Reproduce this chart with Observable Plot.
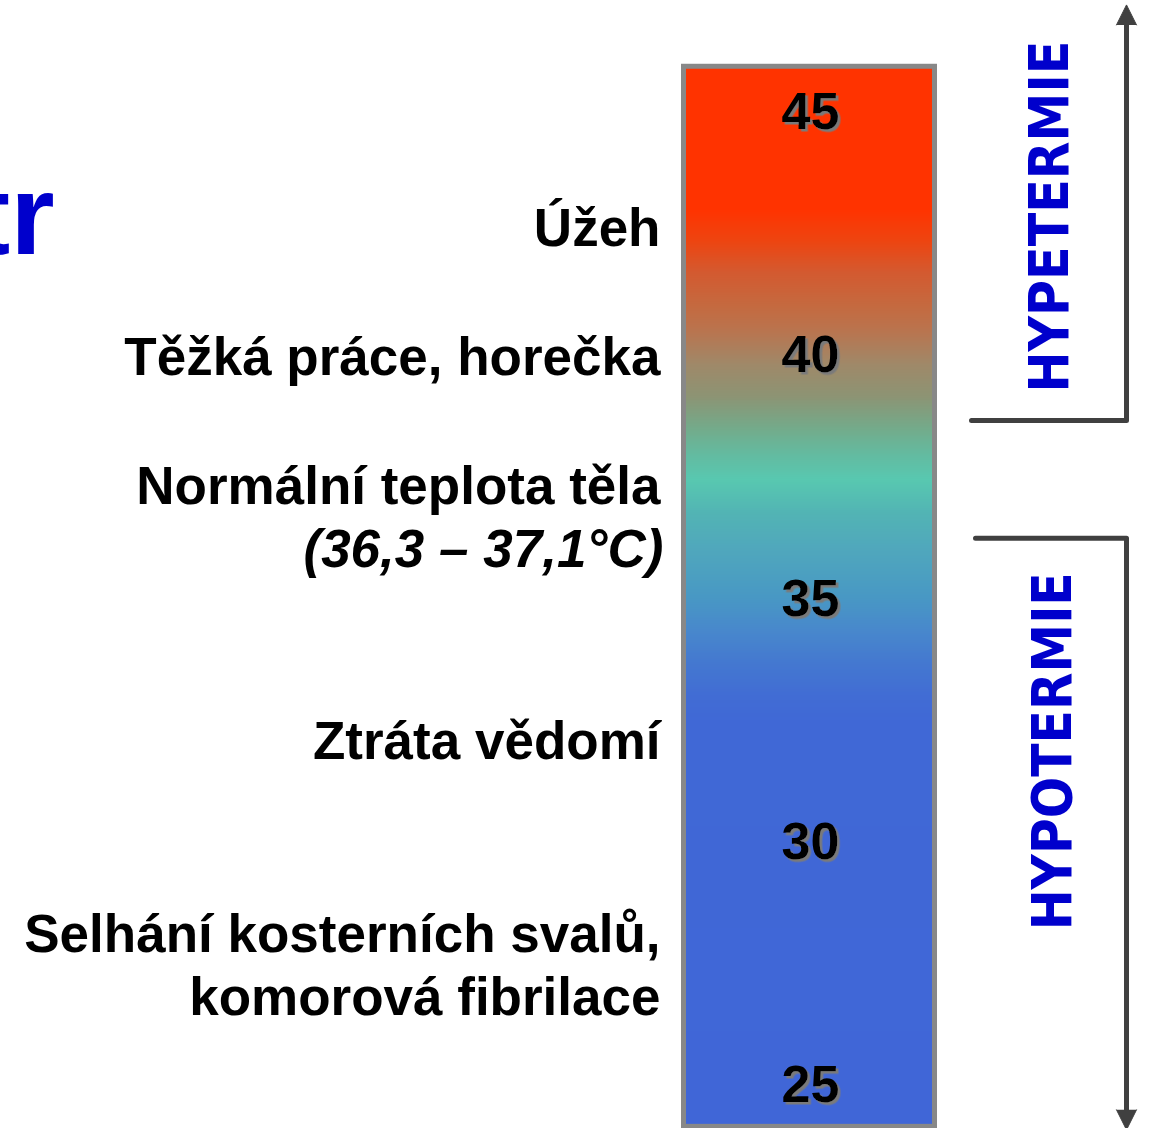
<!DOCTYPE html>
<html>
<head>
<meta charset="utf-8">
<script src="https://cdn.jsdelivr.net/npm/d3@7"></script>
<script src="https://cdn.jsdelivr.net/npm/@observablehq/plot@0.6"></script>
<style>
  html, body { margin: 0; padding: 0; background: #fff; }
  #chart { width: 1153px; height: 1128px; overflow: hidden; }
</style>
</head>
<body>
<div id="chart"></div>
<script>
// ---- data ----
const tickTemps = [25, 30, 35, 40, 45];
const effectLabels = ["Úžeh", "Těžká práce, horečka", "Normální teplota těla", "Ztráta vědomí", "Selhání kosterních svalů,", "komorová fibrilace"];
const effectTemps = [42.6, 39.95, 37.3, 32.05, 28.1, 26.8];
const normalRange = "(36,3 – 37,1°C)";
const normalRangeTemp = 36.0;
const zoneNames = ["HYPETERMIE", "HYPOTERMIE"];
const zoneCenters = [42.86, 31.87];
const zoneStarts = [38.67, 36.25];   // bracket corners
const zoneEnds = [46.8, 24.5];       // arrow bases
const titleFragment = "tr";
const titleTemp = 42.1;
const barTop = 45.94, barBottom = 24.15;
const gradTemps  = [24,       32.44,     32.98,     33.67,     34.35,     35.03,     36.06,     36.76,     37.44,     37.91,     38.46,     39.14,     39.84,     40.46,     40.99,     41.69,     42.37,     43.0,      46];
const gradColors = ["#4066d7","#4068d6","#416cd4","#4478d0","#4888cc","#4898c4","#50a8bc","#52b4b4","#58c8b0","#62bca2","#72ac8c","#8c9474","#a08868","#b87550","#c46a40","#d35a30","#ee4410","#ff3300","#ff3300"];

// ---- layout ----
const W = 1153, H = 1128;
const pxPerDeg = 48.65, y45 = 112;
const yOf = t => y45 + (45 - t) * pxPerDeg;

const step = 0.02;
const slices = d3.range(barBottom, barTop, step);

const fontSans = "'Liberation Sans', Arial, Helvetica, sans-serif";

const chart = Plot.plot({
  width: W,
  height: H,
  margin: 0,
  x: { domain: [0, W], range: [0, W], axis: null },
  y: { domain: [24, 46], range: [yOf(24), yOf(46)], axis: null },
  color: { type: "linear", domain: gradTemps, range: gradColors, interpolate: "rgb" },
  style: { fontFamily: fontSans, background: "#fff", overflow: "visible" },
  marks: [
    // gradient column
    Plot.rect(slices, {
      x1: 686, x2: 932,
      y1: d => d, y2: d => Math.min(d + step * 1.2, barTop),
      fill: d => d + step / 2,
      shapeRendering: "crispEdges"
    }),
    // frame of the column
    Plot.rect([0], {
      x1: 683.5, x2: 934.5, y1: barBottom, y2: barTop,
      fill: "none", stroke: "#888888", strokeWidth: 5
    }),
    // tick numbers (shadow added by a filter below)
    Plot.text(tickTemps, {
      x: 810, y: d => d, text: d => String(d),
      fontSize: 52, fontWeight: "bold", fill: "#000",
      ariaLabel: "tick-number"
    }),
    // effect labels
    Plot.text(effectLabels, {
      x: 660, y: (d, i) => effectTemps[i], text: d => d,
      textAnchor: "end", fontSize: 53, fontWeight: "bold", fill: "#000"
    }),
    Plot.text([normalRange], {
      x: 663, y: normalRangeTemp, text: d => d,
      textAnchor: "end", fontSize: 53, fontWeight: "bold", fontStyle: "italic", fill: "#000"
    }),
    // partial title at left
    Plot.text([titleFragment], {
      x: 54, y: titleTemp, text: d => d, lineAnchor: "bottom",
      textAnchor: "end", fontSize: 114, fontWeight: "bold", fill: "#0000cc"
    }),
    // brackets
    Plot.line([[971, zoneStarts[0]], [1126, zoneStarts[0]], [1126, zoneEnds[0]]], {
      x: d => d[0], y: d => d[1], stroke: "#404040", strokeWidth: 5,
      strokeLinecap: "round", strokeLinejoin: "round"
    }),
    Plot.line([[975, zoneStarts[1]], [1126, zoneStarts[1]], [1126, zoneEnds[1]]], {
      x: d => d[0], y: d => d[1], stroke: "#404040", strokeWidth: 5,
      strokeLinecap: "round", strokeLinejoin: "round"
    }),
    // arrow heads
    Plot.vector(zoneEnds, {
      x: 1126, y: d => d, rotate: (d, i) => (i === 0 ? 0 : 180),
      length: 20, r: 10, shape: "spike", anchor: "start",
      fill: "#404040", stroke: "#404040", strokeWidth: 1
    }),
    // zone names (vertical)
    Plot.text(zoneNames, {
      x: (d, i) => (i === 0 ? 1050 : 1053), y: (d, i) => zoneCenters[i], text: d => d,
      rotate: -90, fontSize: 55, fontWeight: "bold", fill: "#0000cc",
      fontFamily: "'DejaVu Sans', Verdana, sans-serif"
    })
  ]
});

// drop shadow for the tick numbers
const ns = "http://www.w3.org/2000/svg";
const defs = document.createElementNS(ns, "defs");
const filter = document.createElementNS(ns, "filter");
filter.setAttribute("id", "numShadow");
filter.setAttribute("x", "-20%"); filter.setAttribute("y", "-20%");
filter.setAttribute("width", "140%"); filter.setAttribute("height", "140%");
const shadow = document.createElementNS(ns, "feDropShadow");
shadow.setAttribute("dx", "2.5"); shadow.setAttribute("dy", "2.5");
shadow.setAttribute("stdDeviation", "0.3");
shadow.setAttribute("flood-color", "#7a7a7a");
shadow.setAttribute("flood-opacity", "1");
filter.appendChild(shadow);
defs.appendChild(filter);
chart.insertBefore(defs, chart.firstChild);
chart.querySelectorAll("text").forEach(t => {
  if (tickTemps.map(String).includes(t.textContent)) t.setAttribute("filter", "url(#numShadow)");
});

// compress the zone names to the length they have in the reference
chart.querySelectorAll("text").forEach(t => {
  const s = t.textContent;
  if (s === "HYPETERMIE") { t.setAttribute("textLength", 352); t.setAttribute("lengthAdjust", "spacingAndGlyphs"); }
  if (s === "HYPOTERMIE") { t.setAttribute("textLength", 358); t.setAttribute("lengthAdjust", "spacingAndGlyphs"); }
});

document.getElementById("chart").appendChild(chart);
</script>
</body>
</html>
